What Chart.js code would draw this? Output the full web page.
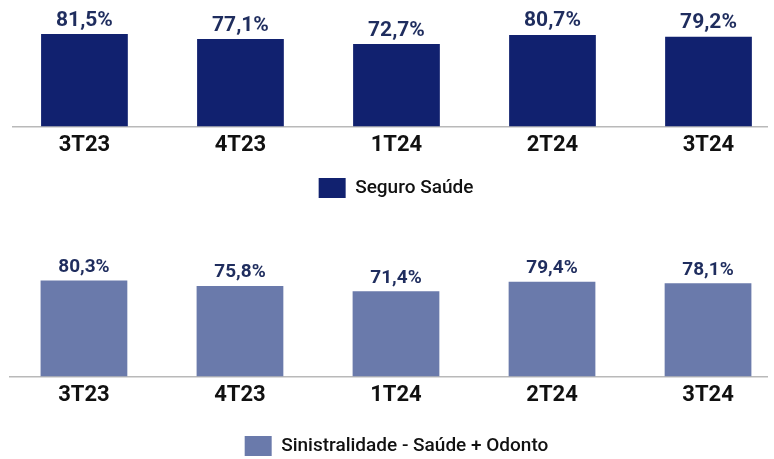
<!DOCTYPE html>
<html>
<head>
<meta charset="utf-8">
<script src="https://cdn.jsdelivr.net/npm/chart.js@4"></script>
<style>
  html, body { margin: 0; padding: 0; background: #fff; overflow: hidden; }
  body { width: 774px; height: 459px; position: relative; }
  .box { position: absolute; left: 0; width: 774px; }
  #top { top: 0; height: 208px; }
  #bottom { top: 225px; height: 241px; }
</style>
</head>
<body>
<div class="box" id="top"><canvas id="chartSaude"></canvas></div>
<div class="box" id="bottom"><canvas id="chartSinistro"></canvas></div>
<script>
const quarters = ["3T23", "4T23", "1T24", "2T24", "3T24"];
const seguroSaude = [81.5, 77.1, 72.7, 80.7, 79.2];
const sinistralidade = [80.3, 75.8, 71.4, 79.4, 78.1];

// étiquettes au-dessus des barres
const valueLabels = {
  id: "valueLabels",
  afterLayout(chart, args, opts) {
    // petit décalage de la légende vers la droite
    chart.legend.left += opts.legendShift;
    chart.legend.right += opts.legendShift;
  },
  afterDatasetsDraw(chart, args, opts) {
    const ctx = chart.ctx;
    const meta = chart.getDatasetMeta(0);
    const values = chart.data.datasets[0].data;
    ctx.save();
    ctx.font = `700 ${opts.size}px Roboto`;
    ctx.fillStyle = "#1f2d5e";
    ctx.textAlign = "center";
    ctx.textBaseline = "alphabetic";
    meta.data.forEach((bar, i) => {
      const txt = values[i].y.toFixed(1).replace(".", ",") + "%";
      ctx.fillText(txt, bar.x, bar.y - 8.5);
    });
    ctx.restore();
  }
};

function makeChart(id, label, values, color, cfg) {
  const ctx = document.getElementById(id).getContext("2d");
  return new Chart(ctx, {
    type: "bar",
    data: {
      datasets: [
        {
          label: label,
          data: quarters.map((q, i) => ({ x: i, y: values[i] })),
          backgroundColor: color,
          categoryPercentage: 1,
          barPercentage: 0.556
        }
      ]
    },
    options: {
      responsive: true,
      maintainAspectRatio: false,
      animation: false,
      layout: { padding: cfg.padding },
      scales: {
        x: {
          type: "linear",
          offset: false,
          min: cfg.xMin,
          max: cfg.xMax,
          grid: { display: false, drawTicks: false },
          border: { color: "#b9b9b9", width: 1.5 },
          afterBuildTicks: scale => {
            scale.ticks = quarters.map((q, i) => ({ value: i }));
          },
          ticks: {
            autoSkip: false,
            maxRotation: 0,
            padding: 6,
            color: "#111111",
            font: { family: "Roboto", size: 22, weight: "700" },
            callback: v => quarters[v]
          }
        },
        y: { display: false, min: 0, max: 100 }
      },
      plugins: {
        legend: {
          position: "bottom",
          labels: {
            boxWidth: 27,
            boxHeight: 20,
            padding: cfg.legendPad,
            color: "#111111",
            font: { family: "Roboto", size: 19, weight: "500" }
          }
        },
        tooltip: { enabled: false },
        valueLabels: { size: cfg.labelSize, legendShift: cfg.legendShift }
      }
    },
    plugins: [valueLabels]
  });
}

makeChart("chartSaude", "Seguro Saúde", seguroSaude, "#11216f", {
  padding: { top: 13, left: 13, right: 7, bottom: 0 },
  xMin: -0.458, xMax: 4.375, legendPad: 13, labelSize: 21, legendShift: 6
});

makeChart("chartSinistro", "Sinistralidade - Saúde + Odonto", sinistralidade, "#6a7aab", {
  padding: { top: 32, left: 10, right: 7, bottom: 0 },
  xMin: -0.474, xMax: 4.378, legendPad: 21, labelSize: 19, legendShift: 8
});
</script>
</body>
</html>
